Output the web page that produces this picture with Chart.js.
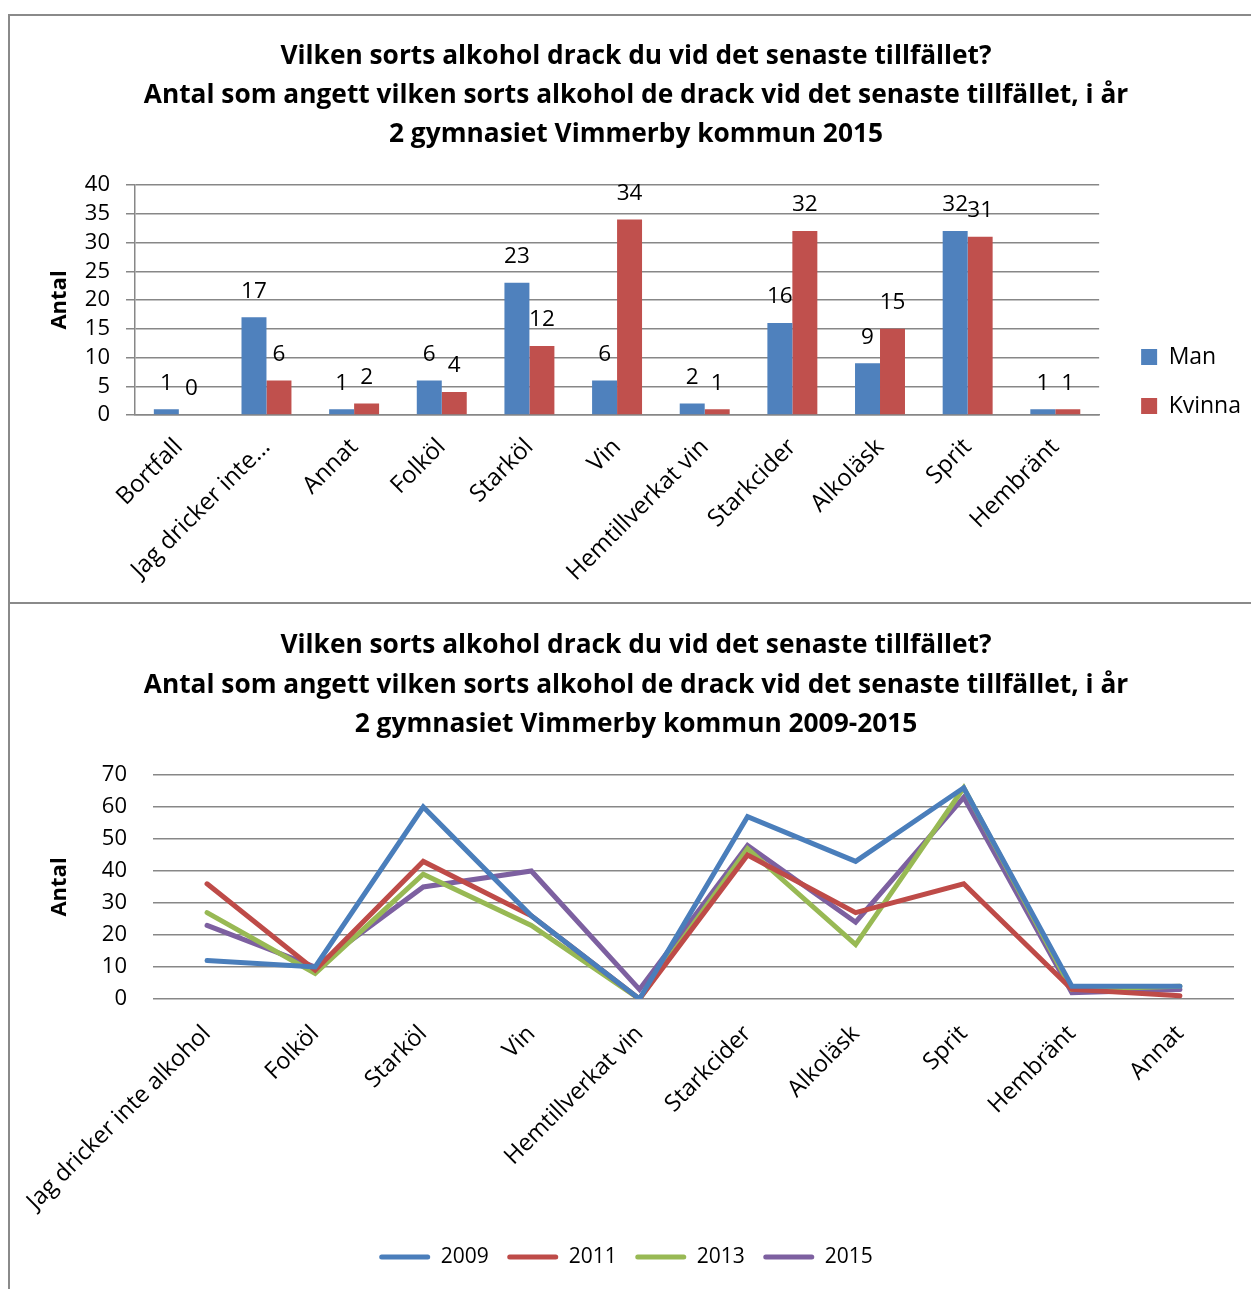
<!DOCTYPE html>
<html><head><meta charset="utf-8">
<script src="https://cdn.jsdelivr.net/npm/chart.js@4.4.1/dist/chart.umd.min.js"></script>
<style>
html,body{margin:0;padding:0;background:#fff;}
body{width:1251px;height:1289px;position:relative;overflow:hidden;}
canvas{position:absolute;left:0;}
#c1{top:0;}
#c2{top:605px;}
.ln{position:absolute;background:#8a8a8a;}
</style></head><body>
<div class="ln" style="left:8px;top:14px;width:1243px;height:2px"></div>
<div class="ln" style="left:8px;top:14px;width:2px;height:1275px"></div>
<div class="ln" style="left:8px;top:602px;width:1243px;height:2px"></div>
<canvas id="c1" width="1251" height="603"></canvas>
<canvas id="c2" width="1251" height="684"></canvas>
<script>
// ---- data: chart 1 (2015, by gender)
const categories1 = ['Bortfall','Jag dricker inte...','Annat','Folköl','Starköl','Vin','Hemtillverkat vin','Starkcider','Alkoläsk','Sprit','Hembränt'];
const manValues = [1,17,1,6,23,6,2,16,9,32,1];
const kvinnaValues = [0,6,2,4,12,34,1,32,15,31,1];
const title1 = ['Vilken sorts alkohol drack du vid det senaste tillfället?','Antal som angett vilken sorts alkohol de drack vid det senaste tillfället, i år','2 gymnasiet Vimmerby kommun 2015'];

// ---- data: chart 2 (2009-2015)
const categories2 = ['Jag dricker inte alkohol','Folköl','Starköl','Vin','Hemtillverkat vin','Starkcider','Alkoläsk','Sprit','Hembränt','Annat'];
const values2009 = [12,10,60,26,0,57,43,66,4,4];
const values2011 = [36,9,43,26,0,45,27,36,3,1];
const values2013 = [27,8,39,23,0,47,17,66,3,4];
const values2015 = [23,10,35,40,3,48,24,63,2,3];
const title2 = ['Vilken sorts alkohol drack du vid det senaste tillfället?','Antal som angett vilken sorts alkohol de drack vid det senaste tillfället, i år','2 gymnasiet Vimmerby kommun 2009-2015'];
const yTitle = 'Antal';

const FONT = '"Open Sans", sans-serif';
const GRID = '#878787';

const barLabels = {
  id: 'barLabels',
  afterDatasetsDraw(chart) {
    const ctx = chart.ctx;
    ctx.save();
    ctx.font = '22.5px ' + FONT;
    ctx.fillStyle = '#000';
    ctx.textAlign = 'center';
    ctx.textBaseline = 'middle';
    chart.data.datasets.forEach((ds, i) => {
      chart.getDatasetMeta(i).data.forEach((bar, j) => {
        ctx.fillText(String(ds.data[j]), bar.x, bar.y - 26);
      });
    });
    ctx.restore();
  }
};

// moves a legend box by a fixed offset after layout
const legendShift = (dx, dy) => ({
  id: 'legendShift',
  afterLayout(chart) {
    const l = chart.legend;
    if (!l) return;
    l.left += dx; l.right += dx;
    l.top += dy; l.bottom += dy;
  }
});

function draw() {
  Chart.defaults.font.family = FONT;
  Chart.defaults.color = '#000';

  new Chart(document.getElementById('c1'), {
    type: 'bar',
    data: {
      labels: categories1,
      datasets: [
        {label: 'Man', data: manValues, backgroundColor: '#4F81BD', categoryPercentage: 0.57, barPercentage: 1},
        {label: 'Kvinna', data: kvinnaValues, backgroundColor: '#C0504D', categoryPercentage: 0.57, barPercentage: 1}
      ]
    },
    options: {
      responsive: false, animation: false,
      layout: {padding: {left: 24, right: 3, top: 0, bottom: 0}},
      plugins: {
        title: {display: true, text: title1, color: '#000',
          font: {size: 26.3, weight: 'bold', lineHeight: 1.483}, padding: {top: 37.5, bottom: 30.5}},
        legend: {position: 'right', fullSize: false,
          labels: {boxWidth: 16, boxHeight: 16, padding: 26, font: {size: 23}, color: '#000'}},
        tooltip: {enabled: false}
      },
      scales: {
        x: {
          grid: {display: false},
          border: {display: true, color: GRID, width: 1.5},
          ticks: {autoSkip: false, minRotation: 45, maxRotation: 45, font: {size: 24}, color: '#000', padding: 10},
          afterFit(s) { s.height = 188; }
        },
        y: {
          min: 0, max: 40,
          grid: {color: GRID, lineWidth: 1.5, drawTicks: true, tickLength: 9},
          border: {display: true, color: GRID, width: 1.5},
          ticks: {stepSize: 5, autoSkip: false, font: {size: 22}, color: '#000', padding: 16},
          title: {display: true, text: yTitle, color: '#000', font: {size: 22, weight: 'bold', lineHeight: 1.2}, padding: {top: 22.8, bottom: 0}},
          afterFit(s) { s.width = 111; }
        },
        yR: {
          position: 'right', display: true,
          grid: {display: false}, border: {display: false}, ticks: {display: false},
          afterFit(s) { s.width = 13; }
        }
      }
    },
    plugins: [barLabels, legendShift(3, 81.5)]
  });

  const lineDs = (label, data, color) => ({
    label, data, borderColor: color, backgroundColor: color, borderWidth: 5,
    pointRadius: 0, tension: 0, fill: false, borderCapStyle: 'round'
  });

  new Chart(document.getElementById('c2'), {
    type: 'line',
    data: {
      labels: categories2,
      datasets: [
        lineDs('2009', values2009, '#4A7EBB'),
        lineDs('2011', values2011, '#BE4B48'),
        lineDs('2013', values2013, '#98B954'),
        lineDs('2015', values2015, '#7D60A0')
      ]
    },
    options: {
      responsive: false, animation: false,
      layout: {padding: {left: 38, right: 17, top: 0, bottom: 11.5}},
      plugins: {
        title: {display: true, text: title2, color: '#000',
          font: {size: 26.3, weight: 'bold', lineHeight: 1.502}, padding: {top: 21.25, bottom: 30.25}},
        legend: {position: 'bottom',
          labels: {boxWidth: 51, boxHeight: 5, padding: 18.5, font: {size: 21}, color: '#000',
            useBorderRadius: true, borderRadius: 2.5,
            generateLabels(chart) {
              return Chart.defaults.plugins.legend.labels.generateLabels(chart).map(l => Object.assign(l, {lineWidth: 0, fillStyle: l.strokeStyle}));
            }}},
        tooltip: {enabled: false}
      },
      scales: {
        x: {
          offset: true,
          grid: {display: false},
          border: {display: false},
          ticks: {autoSkip: false, minRotation: 45, maxRotation: 45, font: {size: 23.5}, color: '#000', padding: 13},
          afterFit(s) { s.height = 229; }
        },
        y: {
          min: 0, max: 70,
          grid: {color: GRID, lineWidth: 1.5, drawTicks: false},
          border: {display: false},
          ticks: {stepSize: 10, autoSkip: false, font: {size: 22}, color: '#000', padding: 26},
          title: {display: true, text: yTitle, color: '#000', font: {size: 22, weight: 'bold', lineHeight: 1.2}, padding: {top: 9, bottom: 0}},
          afterFit(s) { s.width = 115; }
        }
      }
    },
    plugins: [legendShift(-10, 0)]
  });
}

Promise.all([
  document.fonts.load('22px "Open Sans"'),
  document.fonts.load('bold 26px "Open Sans"')
]).then(draw, draw);
</script>
</body></html>
